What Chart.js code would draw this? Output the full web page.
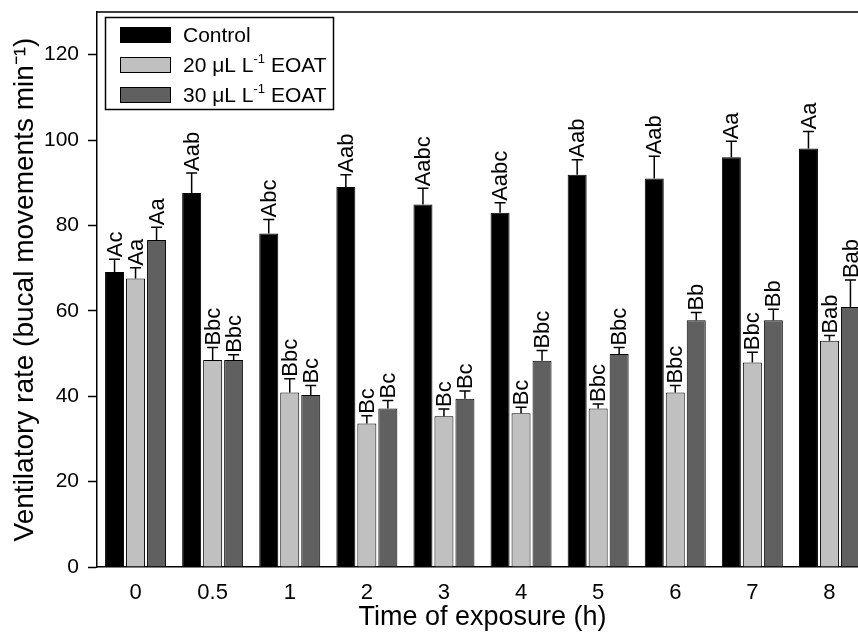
<!DOCTYPE html>
<html lang="en">
<head>
  <meta charset="UTF-8" />
  <title>Ventilatory rate</title>
  <script src="https://cdn.jsdelivr.net/npm/chart.js"></script>
  <style>
    html, body {
      margin: 0;
      padding: 0;
      overflow: hidden;
      background: #fff;
    }
    #chart-container {
      position: absolute;
      left: 0;
      top: 0;
      width: 880px;
      height: 637px;
    }
  </style>
</head>
<body>
  <div id="chart-container">
    <canvas id="ventChart" width="880" height="637"></canvas>
  </div>

  <script>
    // time of exposure (h)
    const times = ['0', '0.5', '1', '2', '3', '4', '5', '6', '7', '8'];

    // bar heights
    const control = [69.1, 87.6, 78.1, 89.0, 84.9, 83.0, 91.9, 91.0, 96.0, 98.0];
    const eoat20 = [67.6, 48.5, 40.9, 33.6, 35.3, 36.0, 37.1, 40.9, 47.9, 53.0];
    const eoat30 = [76.6, 48.5, 40.3, 37.1, 39.4, 48.3, 49.9, 57.8, 57.8, 60.9];

    // upper error bars
    const controlErr = [3.0, 4.7, 3.3, 2.9, 3.8, 2.3, 3.5, 5.2, 3.7, 4.0];
    const eoat20Err = [2.5, 2.9, 3.2, 1.8, 1.7, 1.4, 1.1, 1.6, 2.4, 1.2];
    const eoat30Err = [3.0, 1.2, 2.2, 1.9, 1.8, 2.4, 1.5, 1.8, 2.6, 6.3];

    // significance letters
    const controlTags = ['Ac', 'Aab', 'Abc', 'Aab', 'Aabc', 'Aabc', 'Aab', 'Aab', 'Aa', 'Aa'];
    const eoat20Tags = ['Aa', 'Bbc', 'Bbc', 'Bc', 'Bc', 'Bc', 'Bbc', 'Bbc', 'Bbc', 'Bab'];
    const eoat30Tags = ['Aa', 'Bbc', 'Bc', 'Bc', 'Bc', 'Bbc', 'Bbc', 'Bb', 'Bb', 'Bab'];

    const yTicks = [0, 20, 40, 60, 80, 100, 120];

    const errs = [controlErr, eoat20Err, eoat30Err];
    const tags = [controlTags, eoat20Tags, eoat30Tags];

    const FONT = 'Arial, "Liberation Sans", sans-serif';

    // error bars + letters above each bar
    const errorBarPlugin = {
      id: 'errorBars',
      afterDatasetsDraw(chart) {
        const ctx = chart.ctx;
        const yScale = chart.scales.y;
        ctx.save();
        chart.data.datasets.forEach((ds, i) => {
          const meta = chart.getDatasetMeta(i);
          meta.data.forEach((bar, j) => {
            const top = yScale.getPixelForValue(ds.data[j] + errs[i][j]);
            const x = bar.x;
            ctx.strokeStyle = '#000';
            ctx.lineWidth = 1.5;
            ctx.beginPath();
            ctx.moveTo(x, bar.y);
            ctx.lineTo(x, top);
            ctx.moveTo(x - 5.5, top);
            ctx.lineTo(x + 5.5, top);
            ctx.stroke();

            ctx.save();
            ctx.translate(x, top - 2);
            ctx.rotate(-Math.PI / 2);
            ctx.fillStyle = '#000';
            ctx.font = '22px ' + FONT;
            ctx.textAlign = 'left';
            ctx.textBaseline = 'middle';
            ctx.fillText(tags[i][j], 0, 1);
            ctx.restore();
          });
        });
        ctx.restore();
      }
    };

    // frame top line and boxed legend inside the plot
    const framePlugin = {
      id: 'frame',
      afterDraw(chart) {
        const ctx = chart.ctx;
        const a = chart.chartArea;
        ctx.save();
        ctx.strokeStyle = '#000';
        ctx.lineWidth = 1.5;
        ctx.beginPath();
        ctx.moveTo(a.left, a.top);
        ctx.lineTo(a.right, a.top);
        ctx.lineTo(a.right, a.bottom);
        ctx.stroke();

        // legend box
        ctx.strokeRect(105.5, 17.5, 228, 92);
        chart.data.datasets.forEach((ds, i) => {
          const y = 27 + i * 30;
          ctx.fillStyle = ds.backgroundColor;
          ctx.fillRect(120, y, 51, 16);
          ctx.lineWidth = 1;
          ctx.strokeRect(120.5, y + 0.5, 50, 15);

          ctx.fillStyle = '#000';
          ctx.textBaseline = 'middle';
          ctx.textAlign = 'left';
          const parts = ds.label.split('⁻¹');
          let x = 183;
          ctx.font = '21px ' + FONT;
          ctx.fillText(parts[0], x, y + 9);
          if (parts.length > 1) {
            x += ctx.measureText(parts[0]).width;
            ctx.font = '13px ' + FONT;
            ctx.fillText('-1', x, y + 2);
            x += ctx.measureText('-1').width;
            ctx.font = '21px ' + FONT;
            ctx.fillText(parts[1], x, y + 9);
          }
        });
        ctx.restore();
      }
    };

    const ctx = document.getElementById('ventChart').getContext('2d');

    const chart = new Chart(ctx, {
      type: 'bar',
      data: {
        labels: times,
        datasets: [
          {
            label: 'Control',
            data: control,
            backgroundColor: '#000000',
            borderColor: '#000000',
            borderWidth: 1
          },
          {
            label: '20 μL L⁻¹ EOAT',
            data: eoat20,
            backgroundColor: '#c0c0c0',
            borderColor: '#000000',
            borderWidth: 1
          },
          {
            label: '30 μL L⁻¹ EOAT',
            data: eoat30,
            backgroundColor: '#606060',
            borderColor: '#000000',
            borderWidth: 1
          }
        ]
      },
      options: {
        responsive: false,
        animation: false,
        devicePixelRatio: 1,
        layout: {
          padding: { left: 0, top: 12, right: 12, bottom: 0 }
        },
        datasets: {
          bar: {
            categoryPercentage: 0.817,
            barPercentage: 0.905
          }
        },
        plugins: {
          legend: { display: false },
          tooltip: { enabled: false }
        },
        scales: {
          x: {
            grid: {
              display: true,
              drawOnChartArea: false,
              drawTicks: false
            },
            border: { display: true, color: '#000', width: 1.5 },
            ticks: {
              color: '#000',
              padding: 13,
              font: { family: FONT, size: 22 }
            },
            title: {
              display: true,
              text: 'Time of exposure (h)',
              color: '#000',
              font: { family: FONT, size: 27 },
              padding: { top: 0, bottom: 3 }
            },
            afterFit(scale) {
              scale.height = 70;
              scale.paddingLeft = 0;
              scale.paddingRight = 0;
            }
          },
          y: {
            min: 0,
            max: 130,
            afterBuildTicks(scale) {
              scale.ticks = yTicks.map(v => ({ value: v }));
            },
            grid: {
              display: true,
              drawOnChartArea: false,
              drawTicks: true,
              tickLength: 9,
              tickWidth: 1.5,
              tickColor: '#000'
            },
            border: { display: true, color: '#000', width: 1.5 },
            ticks: {
              color: '#000',
              padding: 9,
              font: { family: FONT, size: 21 }
            },
            title: {
              display: true,
              text: 'Ventilatory rate (bucal movements min⁻¹)',
              color: '#000',
              font: { family: FONT, size: 28 },
              padding: { top: 8, bottom: 0 }
            },
            afterFit(scale) {
              scale.width = 97;
              scale.paddingTop = 0;
              scale.paddingBottom = 0;
            }
          }
        }
      },
      plugins: [errorBarPlugin, framePlugin]
    });
  </script>
</body>
</html>
